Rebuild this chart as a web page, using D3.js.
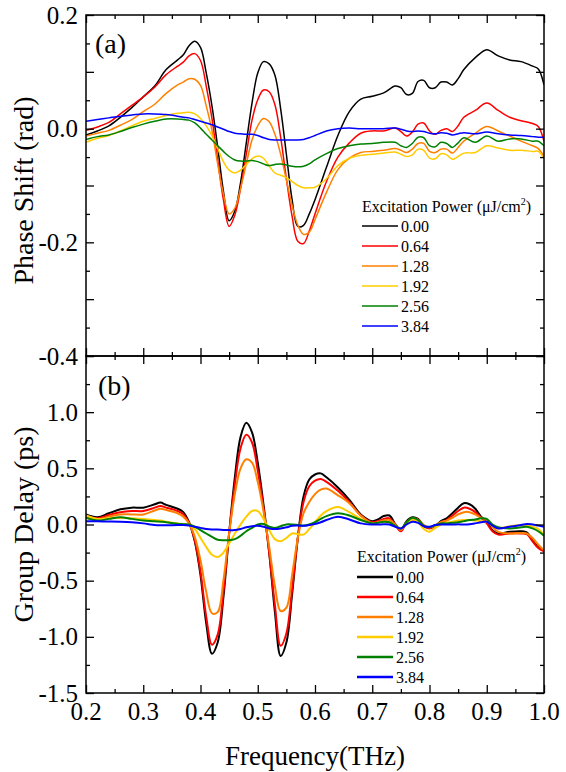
<!DOCTYPE html>
<html><head><meta charset="utf-8">
<script src="https://cdn.jsdelivr.net/npm/d3@7"></script>
</head><body style="margin:0">
<svg id="chart" width="566" height="772" style="font-family:'Liberation Serif' !important"></svg>
<script>
// ---------- DATA ----------
const powers = ["0.00","0.64","1.28","1.92","2.56","3.84"];
const colors = ["#000000","#ff0000","#ff8000","#ffcc00","#008000","#0000ff"];
const legendTitle = "Excitation Power (\u03bcJ/cm";

const xTicks = [0.2,0.3,0.4,0.5,0.6,0.7,0.8,0.9,1.0];
const yTicksA = [-0.4,-0.2,0.0,0.2];
const yTicksB = [-1.5,-1.0,-0.5,0.0,0.5,1.0];

// Panel (a): phase shift (rad)
const freqA = [0.20,0.22,0.24,0.26,0.28,0.30,0.32,0.34,0.36,0.37,0.38,0.39,0.40,0.41,0.42,0.43,0.44,0.45,0.46,0.47,0.48,0.49,0.50,0.51,0.52,0.53,0.54,0.55,0.56,0.57,0.58,0.59,0.60,0.62,0.64,0.66,0.68,0.70,0.72,0.74,0.75,0.76,0.77,0.78,0.79,0.80,0.81,0.82,0.83,0.84,0.85,0.86,0.88,0.90,0.92,0.94,0.96,0.98,0.99,1.00];
const phase000 = [-0.011,-0.004,0.005,0.020,0.037,0.056,0.075,0.104,0.121,0.130,0.146,0.154,0.143,0.098,0.040,-0.032,-0.110,-0.162,-0.145,-0.095,-0.025,0.045,0.098,0.118,0.114,0.094,0.035,-0.045,-0.125,-0.172,-0.170,-0.150,-0.125,-0.068,-0.012,0.030,0.052,0.057,0.063,0.075,0.072,0.060,0.062,0.083,0.085,0.072,0.072,0.082,0.082,0.077,0.088,0.104,0.125,0.139,0.128,0.121,0.118,0.110,0.105,0.077];
const phase064 = [-0.003,0.003,0.011,0.026,0.041,0.056,0.073,0.095,0.110,0.117,0.128,0.132,0.120,0.075,0.018,-0.055,-0.125,-0.172,-0.152,-0.105,-0.045,0.015,0.051,0.068,0.065,0.042,-0.015,-0.088,-0.154,-0.198,-0.202,-0.180,-0.150,-0.093,-0.050,-0.025,-0.008,-0.004,-0.004,0.001,-0.005,-0.013,-0.006,0.008,0.010,-0.004,-0.010,-0.003,0.000,-0.005,0.005,0.020,0.032,0.045,0.032,0.020,0.014,0.009,0.004,-0.022];
const phase128 = [-0.013,-0.008,-0.003,0.006,0.016,0.030,0.043,0.062,0.077,0.082,0.088,0.087,0.076,0.040,-0.003,-0.062,-0.115,-0.150,-0.140,-0.105,-0.062,-0.020,0.005,0.018,0.012,-0.010,-0.045,-0.090,-0.135,-0.170,-0.186,-0.182,-0.160,-0.112,-0.072,-0.052,-0.042,-0.040,-0.038,-0.035,-0.038,-0.042,-0.036,-0.026,-0.026,-0.040,-0.042,-0.036,-0.036,-0.043,-0.033,-0.022,-0.008,0.004,-0.004,-0.013,-0.022,-0.030,-0.035,-0.049];
const phase192 = [-0.024,-0.017,-0.012,-0.004,0.005,0.013,0.018,0.023,0.027,0.028,0.029,0.026,0.018,0.005,-0.012,-0.035,-0.058,-0.073,-0.078,-0.073,-0.063,-0.053,-0.048,-0.052,-0.066,-0.078,-0.082,-0.086,-0.093,-0.100,-0.104,-0.104,-0.103,-0.088,-0.065,-0.052,-0.047,-0.045,-0.043,-0.041,-0.045,-0.049,-0.046,-0.036,-0.038,-0.052,-0.053,-0.044,-0.046,-0.054,-0.049,-0.043,-0.042,-0.030,-0.034,-0.038,-0.038,-0.040,-0.040,-0.053];
const phase256 = [-0.019,-0.014,-0.011,-0.005,0.002,0.008,0.013,0.017,0.017,0.016,0.015,0.010,0.001,-0.010,-0.020,-0.030,-0.040,-0.049,-0.055,-0.057,-0.057,-0.056,-0.058,-0.062,-0.065,-0.063,-0.062,-0.064,-0.066,-0.067,-0.066,-0.062,-0.055,-0.044,-0.035,-0.030,-0.027,-0.026,-0.024,-0.024,-0.030,-0.033,-0.026,-0.015,-0.016,-0.030,-0.032,-0.024,-0.026,-0.033,-0.025,-0.016,-0.024,-0.013,-0.022,-0.018,-0.018,-0.022,-0.022,-0.030];
const phase384 = [0.013,0.016,0.019,0.022,0.024,0.026,0.026,0.025,0.022,0.020,0.019,0.016,0.013,0.010,0.007,0.003,-0.001,-0.005,-0.008,-0.009,-0.010,-0.010,-0.012,-0.016,-0.019,-0.020,-0.020,-0.020,-0.020,-0.020,-0.019,-0.016,-0.012,-0.004,0.000,0.001,0.000,0.000,0.000,0.001,-0.001,-0.004,-0.005,-0.004,-0.005,-0.008,-0.009,-0.007,-0.008,-0.011,-0.009,-0.007,-0.009,-0.006,-0.009,-0.011,-0.012,-0.014,-0.015,-0.015];

// Panel (b): group delay (ps)
const freqB = [0.20,0.22,0.24,0.26,0.28,0.30,0.32,0.33,0.34,0.36,0.37,0.38,0.39,0.40,0.41,0.42,0.43,0.44,0.45,0.46,0.47,0.48,0.49,0.50,0.51,0.52,0.53,0.54,0.55,0.56,0.57,0.58,0.59,0.60,0.61,0.62,0.64,0.66,0.68,0.70,0.71,0.72,0.73,0.74,0.75,0.76,0.77,0.78,0.79,0.80,0.81,0.82,0.83,0.84,0.85,0.86,0.87,0.88,0.89,0.90,0.91,0.92,0.94,0.96,0.97,0.98,0.99,1.00];
const delay000 = [0.09,0.065,0.10,0.135,0.15,0.15,0.18,0.195,0.175,0.14,0.11,0.02,-0.15,-0.45,-0.88,-1.15,-1.05,-0.65,-0.08,0.42,0.78,0.905,0.82,0.55,0.18,-0.25,-0.78,-1.17,-1.05,-0.62,-0.12,0.25,0.40,0.445,0.455,0.42,0.33,0.22,0.09,0.03,0.045,0.075,0.08,0.005,-0.055,0.03,0.065,0.05,-0.015,-0.03,-0.015,0.03,0.055,0.10,0.15,0.19,0.18,0.14,0.07,0.025,-0.05,-0.08,-0.065,-0.06,-0.07,-0.14,-0.20,-0.23];
const delay064 = [0.075,0.055,0.085,0.11,0.12,0.12,0.15,0.165,0.15,0.12,0.09,0.015,-0.14,-0.42,-0.82,-1.07,-0.98,-0.60,-0.08,0.36,0.68,0.80,0.73,0.48,0.15,-0.25,-0.72,-1.08,-0.97,-0.58,-0.12,0.20,0.34,0.39,0.405,0.38,0.30,0.20,0.08,0.02,0.03,0.05,0.055,0.0,-0.06,0.02,0.055,0.045,-0.01,-0.035,-0.015,0.02,0.04,0.08,0.12,0.15,0.14,0.11,0.06,0.01,-0.06,-0.09,-0.08,-0.08,-0.085,-0.15,-0.21,-0.24];
const delay128 = [0.06,0.045,0.07,0.09,0.09,0.09,0.125,0.14,0.13,0.10,0.07,0.01,-0.11,-0.32,-0.60,-0.79,-0.78,-0.50,-0.08,0.27,0.50,0.58,0.55,0.38,0.12,-0.20,-0.55,-0.77,-0.74,-0.45,-0.12,0.10,0.20,0.27,0.31,0.32,0.26,0.19,0.08,0.01,0.02,0.035,0.04,0.0,-0.05,0.02,0.05,0.04,-0.005,-0.025,-0.01,0.02,0.035,0.06,0.09,0.11,0.11,0.09,0.06,0.04,-0.02,-0.065,-0.08,-0.075,-0.08,-0.12,-0.18,-0.23];
const delay192 = [0.08,0.05,0.055,0.06,0.055,0.05,0.04,0.035,0.025,0.01,0.005,-0.005,-0.04,-0.12,-0.20,-0.27,-0.29,-0.25,-0.17,-0.08,0.0,0.07,0.12,0.12,0.05,-0.05,-0.13,-0.15,-0.12,-0.08,-0.085,-0.09,-0.04,0.02,0.08,0.12,0.155,0.11,0.05,0.01,0.015,0.025,0.02,-0.01,-0.035,0.01,0.04,0.02,-0.04,-0.065,-0.03,0.0,0.015,0.025,0.035,0.04,0.04,0.035,0.03,0.025,-0.01,-0.035,-0.015,-0.005,-0.005,-0.02,-0.04,-0.09];
const delay256 = [0.06,0.035,0.05,0.065,0.05,0.036,0.03,0.025,0.02,0.006,0.003,0.0,-0.02,-0.05,-0.08,-0.11,-0.135,-0.14,-0.14,-0.13,-0.10,-0.06,-0.03,0.0,0.005,-0.02,-0.03,-0.015,0.0,0.0,-0.005,-0.01,0.0,0.02,0.05,0.075,0.10,0.08,0.04,0.01,0.015,0.025,0.02,-0.01,-0.035,0.02,0.06,0.04,-0.01,-0.025,-0.005,0.01,0.01,0.015,0.02,0.03,0.04,0.045,0.055,0.05,0.0,-0.025,-0.035,-0.025,-0.02,-0.035,-0.06,-0.10];
const delay384 = [0.03,0.028,0.027,0.025,0.02,0.01,-0.005,-0.007,-0.007,-0.005,-0.005,-0.01,-0.02,-0.03,-0.04,-0.045,-0.045,-0.048,-0.05,-0.05,-0.04,-0.025,-0.015,-0.012,-0.02,-0.035,-0.04,-0.035,-0.025,-0.012,-0.01,-0.012,-0.005,0.005,0.02,0.04,0.07,0.045,0.01,0.0,0.0,0.002,0.0,-0.02,-0.035,0.0,0.025,0.015,-0.015,-0.02,-0.005,0.0,0.0,0.0,0.002,0.0,0.002,0.01,0.02,0.025,-0.01,-0.035,-0.02,-0.005,0.005,0.0,-0.01,-0.02];

// ---------- CHART ----------
const phaseSeries = [phase000,phase064,phase128,phase192,phase256,phase384];
const delaySeries = [delay000,delay064,delay128,delay192,delay256,delay384];

const FAM = '"Liberation Serif"';
const svg = d3.select("#chart");
const L = 86, R = 544, TA = 15, BA = 356, TB = 356, BB = 693;

const x = d3.scaleLinear().domain([0.2,1.0]).range([L,R]);
const yA = d3.scaleLinear().domain([-0.4,0.2]).range([BA,TA]);
const yB = d3.scaleLinear().domain([-1.5,1.5]).range([BB,TB]);

const fmt = d => d.toFixed(1);
const majorLen = 8, minorLen = 4;
const xMinor = d3.range(0.25,1.0,0.1);

function addText(parent, str, size) {
  return parent.append("text")
    .style("font-family", FAM, "important")
    .style("font-size", size + "px")
    .attr("fill", "#000").text(str);
}

function frame(y, top, bot, yMajor, yLabeled, yMinor, showX) {
  const g = svg.append("g");
  const mk = (gen) => g.append("g").call(gen);
  mk(d3.axisLeft(y).tickValues(yMajor).tickSize(-majorLen).tickFormat("")).attr("transform",`translate(${L},0)`);
  mk(d3.axisLeft(y).tickValues(yMinor).tickSize(-minorLen).tickFormat("")).attr("transform",`translate(${L},0)`);
  mk(d3.axisRight(y).tickValues(yMajor).tickSize(-majorLen).tickFormat("")).attr("transform",`translate(${R},0)`);
  mk(d3.axisRight(y).tickValues(yMinor).tickSize(-minorLen).tickFormat("")).attr("transform",`translate(${R},0)`);
  mk(d3.axisTop(x).tickValues(xTicks).tickSize(-majorLen).tickFormat("")).attr("transform",`translate(0,${top})`);
  mk(d3.axisTop(x).tickValues(xMinor).tickSize(-minorLen).tickFormat("")).attr("transform",`translate(0,${top})`);
  mk(d3.axisBottom(x).tickValues(xTicks).tickSize(-majorLen).tickFormat("")).attr("transform",`translate(0,${bot})`);
  mk(d3.axisBottom(x).tickValues(xMinor).tickSize(-minorLen).tickFormat("")).attr("transform",`translate(0,${bot})`);
  g.selectAll("text").remove();
  g.selectAll(".domain").remove();
  g.selectAll(".tick line").attr("stroke","#000").attr("stroke-width",1.3);
  g.append("rect").attr("x",L).attr("y",top).attr("width",R-L).attr("height",bot-top)
    .attr("fill","none").attr("stroke","#000").attr("stroke-width",1.5);
  yLabeled.forEach(v => {
    addText(svg, fmt(v), 25).attr("x",L-8).attr("y",y(v)).attr("dy","0.34em").attr("text-anchor","end");
  });
  if (showX) xTicks.forEach(v => {
    addText(svg, fmt(v), 25).attr("x",x(v)).attr("y",bot+9).attr("dy","0.71em").attr("text-anchor","middle");
  });
}

function drawLines(freq, series, y, top, bot, id, width) {
  svg.append("clipPath").attr("id",id).append("rect")
    .attr("x",L).attr("y",top).attr("width",R-L).attr("height",bot-top);
  const line = d3.line().x((d,i)=>x(freq[i])).y(d=>y(d)).curve(d3.curveCatmullRom.alpha(0.5));
  const g = svg.append("g").attr("clip-path",`url(#${id})`);
  series.forEach((s,k) => {
    g.append("path").datum(s).attr("d",line).attr("fill","none")
      .attr("stroke",colors[k]).attr("stroke-width",width).attr("stroke-linejoin","round");
  });
}

function legend(x0, titleY, rowY0, lineLen, width) {
  const g = svg.append("g");
  const t = addText(g, null, 16).attr("x",x0).attr("y",titleY);
  t.append("tspan").text(legendTitle);
  t.append("tspan").style("font-size","10px").attr("dy",-7).text("2");
  t.append("tspan").attr("dy",7).text(")");
  powers.forEach((p,i) => {
    const yy = rowY0 + i*20;
    g.append("line").attr("x1",x0).attr("x2",x0+lineLen).attr("y1",yy).attr("y2",yy)
      .attr("stroke",colors[i]).attr("stroke-width",width);
    addText(g, p, 16).attr("x",x0+lineLen+3).attr("y",yy).attr("dy","0.35em");
  });
}

drawLines(freqA, phaseSeries, yA, TA, BA, "clipA", 1.5);
drawLines(freqB, delaySeries, yB, TB, BB, "clipB", 2);

frame(yA, TA, BA, [-0.4,-0.3,-0.2,-0.1,0.0,0.1,0.2], yTicksA, [-0.35,-0.25,-0.15,-0.05,0.05,0.15], false);
frame(yB, TB, BB, [-1.5,-1.0,-0.5,0.0,0.5,1.0,1.5], yTicksB, [-1.25,-0.75,-0.25,0.25,0.75,1.25], true);

legend(362, 212, 226, 36, 1.5);
legend(357, 562, 577, 36, 2.5);

addText(svg, "(a)", 28).attr("x",95).attr("y",53);
addText(svg, "(b)", 28).attr("x",98).attr("y",395);

addText(svg, "Phase Shift (rad)", 28).attr("transform",`translate(33,${(TA+BA)/2+5}) rotate(-90)`)
  .attr("text-anchor","middle");
addText(svg, "Group Delay (ps)", 28).attr("transform",`translate(33,${(TB+BB)/2}) rotate(-90)`)
  .attr("text-anchor","middle");
addText(svg, "Frequency(THz)", 27).attr("x",(L+R)/2).attr("y",765).attr("text-anchor","middle");

// re-apply the family once the font is available
if (document.fonts && document.fonts.load) {
  document.fonts.load('16px "Liberation Serif"').then(() => {
    svg.selectAll("text").style("font-family", FAM, "important");
  });
}
</script>
</body></html>
